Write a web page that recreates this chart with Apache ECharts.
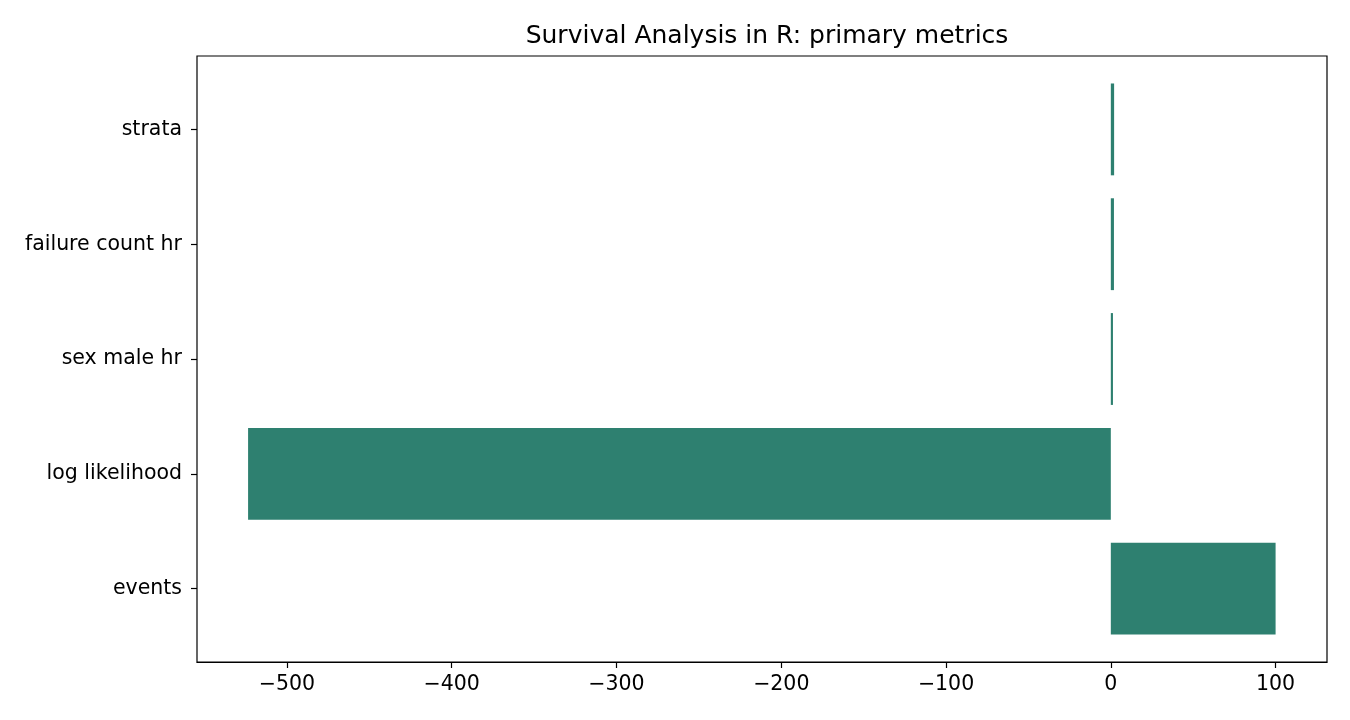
<!DOCTYPE html>
<html>
<head>
<meta charset="utf-8">
<script src="https://cdn.jsdelivr.net/npm/echarts@6/dist/echarts.min.js"></script>
<style>html,body{margin:0;padding:0;background:#fff}#c{width:1350px;height:720px}</style>
</head>
<body>
<div id="c"></div>
<script>
const categories = ['events', 'log likelihood', 'sex male hr', 'failure count hr', 'strata'];
const values = [100, -523.6, 1.3, 1.9, 2.0];
const xTicks = [-500, -400, -300, -200, -100, 0, 100];
const xMin = -554.6;
const xMax = 131.2;
const barColor = '#2e8070';
const font = 'DejaVu Sans';

const chart = echarts.init(document.getElementById('c'));
chart.setOption({
  animation: false,
  backgroundColor: '#fff',
  title: {
    text: 'Survival Analysis in R: primary metrics',
    left: 762, top: 19, textAlign: 'center',
    textStyle: { fontFamily: font, fontSize: 25, fontWeight: 'normal', color: '#000' }
  },
  grid: [
    { left: 197, right: 23, top: 72, bottom: 74, show: false },
    { left: 197, right: 23, top: 56, bottom: 58, show: true, borderColor: '#000', borderWidth: 1.2, backgroundColor: 'transparent', z: 10 }
  ],
  xAxis: [
    {
      gridIndex: 0, type: 'value', min: xMin, max: xMax, offset: 16,
      splitLine: { show: false },
      axisLine: { show: true, onZero: false, lineStyle: { color: '#000', width: 1.2 } },
      axisTick: { show: true, length: 6, lineStyle: { color: '#000', width: 1.2 }, customValues: xTicks },
      axisLabel: {
        customValues: xTicks, color: '#000', fontFamily: font, fontSize: 20.5, margin: 12,
        formatter: v => (v < 0 ? '\u2212' + Math.abs(v) : String(v))
      }
    },
    { gridIndex: 1, type: 'value', show: false }
  ],
  yAxis: [
    {
      gridIndex: 0, type: 'category', data: categories, boundaryGap: true,
      axisLine: { show: false, onZero: false },
      axisTick: { show: true, alignWithLabel: true, length: 6, lineStyle: { color: '#000', width: 1.2 } },
      axisLabel: { color: '#000', fontFamily: font, fontSize: 20.5, margin: 15 },
      splitLine: { show: false }
    },
    { gridIndex: 1, type: 'value', show: false }
  ],
  series: [{
    type: 'bar',
    xAxisIndex: 0, yAxisIndex: 0,
    data: values,
    barCategoryGap: '20%',
    itemStyle: { color: barColor }
  }]
});
</script>
</body>
</html>
